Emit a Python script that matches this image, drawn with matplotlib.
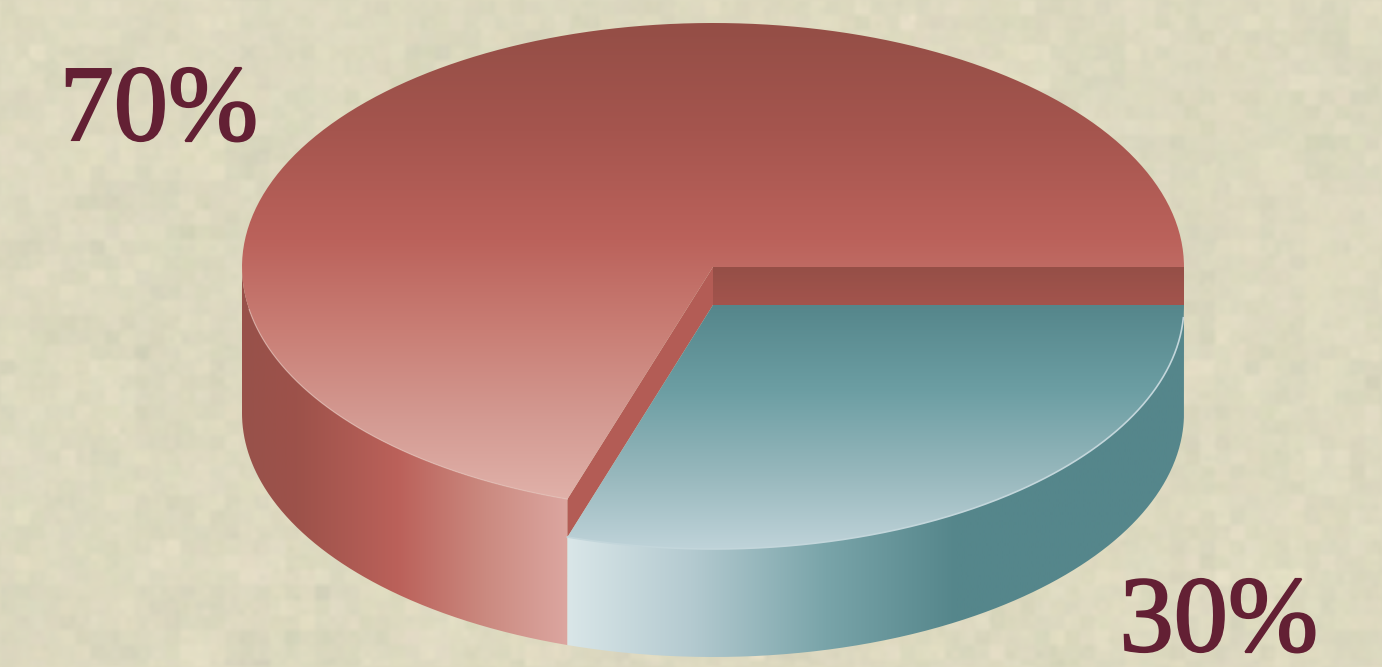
import numpy as np
import matplotlib
matplotlib.use("Agg")
import matplotlib.pyplot as plt
import matplotlib.patheffects as pe
from matplotlib.colors import LinearSegmentedColormap
from matplotlib.patches import PathPatch
from matplotlib.path import Path

# Data
labels = ["70%", "30%"]
shares = [70, 30]

# Gradient stops (position, colour)
RED_TOP = [(0.0, "#944e46"), (0.22, "#a5554e"), (0.445, "#bb625b"), (0.63, "#c97e75"),
           (0.82, "#d49b93"), (1.0, "#e2b4ac")]
RED_SIDE = [(0.0, "#98514a"), (0.17, "#9d524a"), (0.48, "#bb615a"), (0.75, "#cb8a80"), (1.0, "#dca6a0")]
TEAL_TOP = [(0.0, "#55868b"), (0.35, "#6c9ea3"), (0.7, "#98b8bd"), (1.0, "#bfd3d9")]
TEAL_SIDE = [(0.0, "#d9e6e8"), (0.2, "#b4cad0"), (0.42, "#79a4a9"), (0.63, "#55868b"), (1.0, "#55868b")]

CX, CY = 713, 267
A, B = 471, 244
LIFT = 38      # gap between the two top faces
DEPTH = 146    # from the red top to the base ellipse

fig = plt.figure(figsize=(13.82, 6.67), dpi=100)
ax = fig.add_axes([0, 0, 1, 1])
ax.set_xlim(0, 1382)
ax.set_ylim(667, 0)
ax.axis("off")


def cmap(stops):
    return LinearSegmentedColormap.from_list("g", stops)


def arc(t0, t1, cy):
    t = np.radians(np.linspace(t0, t1, 300))
    return np.column_stack([CX + A * np.cos(t), cy + B * np.sin(t)])


def fill(verts, stops, extent, vertical=True, z=2):
    # gradient image clipped to the polygon
    ramp = np.linspace(0, 1, 256)
    grad = ramp[:, None] if vertical else ramp[None, :]
    im = ax.imshow(grad, cmap=cmap(stops), extent=extent, aspect="auto", zorder=z,
                   interpolation="bilinear", vmin=0, vmax=1)
    patch = PathPatch(Path(np.vstack([verts, verts[:1]])), fc="none", ec="none", transform=ax.transData)
    ax.add_patch(patch)
    im.set_clip_path(patch)


# --- paper texture ---
rng = np.random.RandomState(7)
h, w = 667, 1382
tex = np.zeros((h, w, 3)) + np.array([221, 217, 192], float)
for size, amp in [(7, 1.4), (15, 2.4), (45, 1.6)]:
    nx, ny = w // size + 2, h // size + 2
    coarse = rng.normal(0, amp, (ny, nx, 3))
    coarse = coarse * 0.3 + coarse[..., :1] * 0.7
    tex += np.kron(coarse, np.ones((size, size, 1)))[:h, :w]
# soften the block edges a little
for axis in (0, 1):
    tex = (np.roll(tex, -2, axis) + np.roll(tex, -1, axis) + tex
           + np.roll(tex, 1, axis) + np.roll(tex, 2, axis)) / 5
ax.imshow(np.clip(tex, 0, 255).astype(np.uint8), extent=(0, 1382, 667, 0), aspect="auto",
          zorder=0, interpolation="bilinear")

cut = 360 * shares[1] / sum(shares)   # teal slice runs from 0 to here, clockwise on screen
base_y = CY + DEPTH
teal_y = CY + LIFT
cut_top = arc(cut, cut, CY)[0]
cut_teal = arc(cut, cut, teal_y)[0]
centre = np.array([CX, CY])
centre_teal = np.array([CX, teal_y])

# outer walls
red_wall = np.vstack([arc(180, cut, CY), arc(cut, 180, base_y)])
fill(red_wall, RED_SIDE, (242, cut_top[0], 667, 0), vertical=False)
teal_wall = np.vstack([arc(cut, 0, teal_y), arc(0, cut, base_y)])
fill(teal_wall, TEAL_SIDE, (cut_top[0], 1184, 667, 0), vertical=False)

# cut faces of the red slice
strip = np.array([centre, [CX + A, CY], [CX + A, teal_y], centre_teal])
fill(strip, [(0, "#954f47"), (1, "#a3544d")], (CX, CX + A, teal_y, CY))
ax.fill(*np.array([centre, cut_top, cut_teal, centre_teal]).T, color="#b35c55", lw=0, zorder=2)

# top faces
red_top = np.vstack([centre, arc(cut, 360, CY)])
fill(red_top, RED_TOP, (242, 1184, CY + B, CY - B), z=3)
teal_top = np.vstack([centre_teal, arc(0, cut, teal_y)])
fill(teal_top, TEAL_TOP, (CX - 160, CX + A, teal_y + B, teal_y), z=3)

# pale rim along the front edges
rim = arc(cut, 170, CY)
ax.plot(rim[:, 0], rim[:, 1], color="#e6c3bc", lw=0.9, alpha=0.6, zorder=4)
rim = arc(3, cut, teal_y)
ax.plot(rim[:, 0], rim[:, 1], color="#c3d6db", lw=1.2, zorder=4)

# labels
label_style = dict(family="Liberation Serif", fontsize=78, color="#632034",
                   va="baseline", ha="center", zorder=5,
                   path_effects=[pe.withStroke(linewidth=1.5, foreground="#632034",
                                               joinstyle="miter", capstyle="butt")])
ax.text(159, 140, labels[0], **label_style)
ax.text(1219, 651, labels[1], **label_style)

fig.savefig("out.png", dpi=100)
